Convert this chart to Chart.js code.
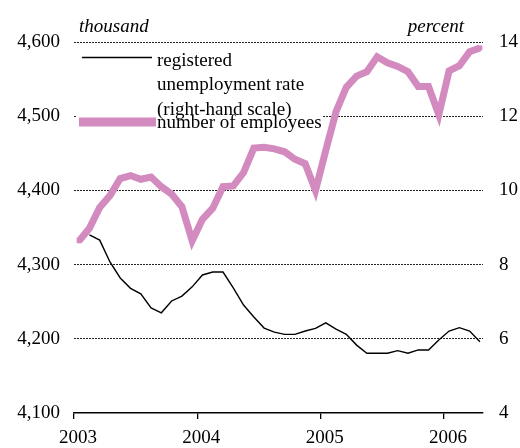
<!DOCTYPE html>
<html>
<head>
<meta charset="utf-8">
<script src="https://cdn.jsdelivr.net/npm/chart.js@4"></script>
<style>
  html, body { margin:0; padding:0; background:#fff; }
  #wrap { width:520px; height:448px; position:relative; }
</style>
</head>
<body>
<div id="wrap"><canvas id="c" width="520" height="448"></canvas></div>
<script>
// ---------- data ----------
// monthly, Jan 2003 .. Apr 2006 (thousand)
const employees = [4332, 4349, 4377, 4393, 4416, 4420, 4415, 4418, 4405, 4395, 4378, 4332,
  4361, 4376, 4405, 4406, 4424, 4457, 4458, 4456, 4452, 4442, 4436, 4400,
  4454, 4506, 4539, 4554, 4560, 4580, 4572, 4567, 4560, 4540, 4540, 4502,
  4561, 4568, 4587, 4592];
// monthly, Feb 2003 .. Apr 2006 (percent)
const unemployment = [8.80, 8.66, 8.07, 7.64, 7.36, 7.21, 6.83, 6.70, 7.02, 7.15, 7.40,
  7.72, 7.80, 7.80, 7.37, 6.91, 6.59, 6.29, 6.18, 6.12, 6.12, 6.21, 6.28,
  6.43, 6.26, 6.12, 5.83, 5.61, 5.61, 5.61, 5.68, 5.61, 5.70, 5.70, 5.97,
  6.21, 6.30, 6.21, 5.92];
const yearLabels = ['2003', '2004', '2005', '2006'];
const yearTicks = [0, 12, 24, 36];
const leftTicks = [4100, 4200, 4300, 4400, 4500, 4600];
const rightTicks = [4, 6, 8, 10, 12, 14];
const legendLines = ['registered', 'unemployment rate', '(right-hand scale)', 'number of employees'];

const PINK = '#d38bbf';
const FONT = '"Liberation Serif", "Times New Roman", serif';
Chart.defaults.font.family = FONT;
Chart.defaults.font.size = 19;
Chart.defaults.color = '#000';

// ---------- legend + unit labels ----------
const overlay = {
  id: 'overlay',
  beforeDatasetsDraw(chart){
    const ctx = chart.ctx;
    ctx.save();
    ctx.fillStyle = '#fff';
    ctx.fillRect(77, 45, 246, 90);
    // black sample
    ctx.strokeStyle = '#000'; ctx.lineWidth = 1.5;
    ctx.beginPath(); ctx.moveTo(82, 57.5); ctx.lineTo(152, 57.5); ctx.stroke();
    // pink sample
    ctx.strokeStyle = PINK; ctx.lineWidth = 9;
    ctx.beginPath(); ctx.moveTo(79, 122); ctx.lineTo(156, 122); ctx.stroke();
    ctx.fillStyle = '#000';
    ctx.font = '19px ' + FONT;
    ctx.textAlign = 'left'; ctx.textBaseline = 'alphabetic';
    const ys = [66, 90, 115, 128];
    legendLines.forEach((t, i) => ctx.fillText(t, 157, ys[i]));
    ctx.restore();
  },
  afterDraw(chart){
    const ctx = chart.ctx;
    ctx.save();
    ctx.fillStyle = '#000';
    ctx.font = 'italic 19px ' + FONT;
    ctx.textBaseline = 'alphabetic';
    ctx.textAlign = 'left'; ctx.fillText('thousand', 79, 31.5);
    ctx.textAlign = 'right'; ctx.fillText('percent', 464, 31.5);
    ctx.restore();
  }
};

new Chart(document.getElementById('c'), {
  type: 'line',
  data: {
    datasets: [
      {
        label: 'registered unemployment rate (right-hand scale)',
        data: unemployment.map((v, i) => ({ x: i + 1.5, y: v })),
        yAxisID: 'yR',
        borderColor: '#000', borderWidth: 1.4,
        pointRadius: 0, tension: 0
      },
      {
        label: 'number of employees',
        data: employees.map((v, i) => ({ x: i + 0.5, y: v })),
        yAxisID: 'y',
        borderColor: PINK, borderWidth: 7, borderJoinStyle: 'miter',
        pointStyle: 'rect', pointRadius: 3.5, pointBorderWidth: 0,
        pointBackgroundColor: PINK, tension: 0
      }
    ]
  },
  options: {
    responsive: false, animation: false,
    layout: { padding: { top: 42, left: 0, right: 0, bottom: 0 } },
    plugins: { legend: { display: false }, tooltip: { enabled: false } },
    scales: {
      x: {
        type: 'linear', min: 0, max: 39.8,
        afterBuildTicks: s => { s.ticks = yearTicks.map(v => ({ value: v })); },
        afterFit: s => { s.height = 35; },
        ticks: { autoSkip: false, maxRotation: 0, padding: 8, labelOffset: 4,
          callback: (v, i) => yearLabels[i] },
        grid: { drawOnChartArea: false, drawTicks: true, tickLength: 6, color: '#000', lineWidth: 1.3 },
        border: { display: true, color: '#000', width: 1.5 }
      },
      y: {
        position: 'left', min: 4100, max: 4600,
        afterBuildTicks: s => { s.ticks = leftTicks.map(v => ({ value: v })); },
        afterFit: s => { s.width = 74; },
        ticks: { padding: 14, callback: v => v.toLocaleString('en-US') },
        grid: { color: c => (c.tick && c.tick.value === 4100 ? 'rgba(0,0,0,0)' : '#222'),
          lineWidth: 1, drawTicks: false },
        border: { display: false, dash: [2, 1] }
      },
      yR: {
        position: 'right', min: 4, max: 14,
        afterBuildTicks: s => { s.ticks = rightTicks.map(v => ({ value: v })); },
        afterFit: s => { s.width = 37; },
        ticks: { padding: 16 },
        grid: { display: false, drawTicks: false },
        border: { display: false }
      }
    }
  },
  plugins: [overlay]
});
</script>
</body>
</html>
